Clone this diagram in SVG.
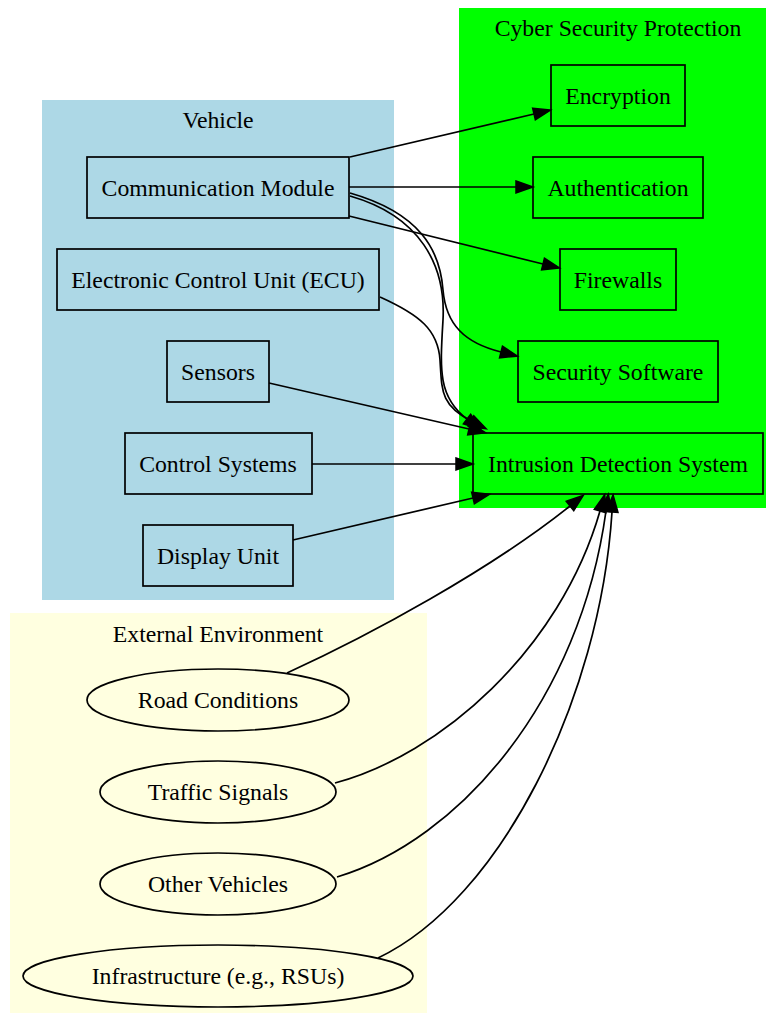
<svg xmlns="http://www.w3.org/2000/svg" width="766" height="1015" viewBox="0 0 766 1015">
<style>
text{font-family:"Liberation Serif","Times New Roman",serif;font-size:23.75px;fill:#000;text-anchor:middle}
.n{fill:none;stroke:#000;stroke-width:1.7}
.e{fill:none;stroke:#000;stroke-width:1.7;marker-end:url(#arr)}
</style>
<defs>
<marker id="arr" markerUnits="userSpaceOnUse" markerWidth="18" markerHeight="13" refX="0" refY="6" orient="auto" viewBox="0 0 18 12" overflow="visible">
<path d="M0,0 L17,6 L0,12 z" fill="#000" stroke="#000" stroke-width="1.5"/>
</marker>
</defs>
<rect width="766" height="1015" fill="#fff"/>
<g id="cluster_security">
<rect x="459" y="8" width="307" height="500" fill="#00ff00"/>
<text x="618" y="36">Cyber Security Protection</text>
</g>
<g id="cluster_vehicle">
<rect x="42" y="100" width="352" height="500" fill="#add8e6"/>
<text x="218" y="128">Vehicle</text>
</g>
<g id="cluster_external">
<rect x="10" y="613" width="417" height="400" fill="#ffffe0"/>
<text x="218" y="642">External Environment</text>
</g>
<g id="edges">
<path class="e" d="M350,157 L534,114"/>
<path class="e" d="M349,187 L516,187"/>
<path class="e" d="M349,216 L543,264"/>
<path class="e" d="M350,193 C420,213 440,250 443,290 C446,325 465,343 501,352"/>
<path class="e" d="M350,196 C420,216 446,265 443,320 C440,370 438,397 467,419"/>
<path class="e" d="M380,297 C420,315 438,330 440,360 C442,390 440,405 471,421"/>
<path class="e" d="M269,383 L469,429"/>
<path class="e" d="M312,464 L456,464"/>
<path class="e" d="M293,540 L473,498"/>
<path class="e" d="M287,673 C370,635 490,570 570,506"/>
<path class="e" d="M335,783 C440,755 560,650 600,511"/>
<path class="e" d="M337,877 C460,840 580,700 606,511"/>
<path class="e" d="M378,958 C500,900 600,700 612,512"/>
</g>
<g id="comm"><rect class="n" x="87" y="157" width="262" height="61"/><text x="218" y="196">Communication Module</text></g>
<g id="ecu"><rect class="n" x="57" y="249" width="322" height="61"/><text x="218" y="288">Electronic Control Unit (ECU)</text></g>
<g id="sensors"><rect class="n" x="167" y="341" width="102" height="61"/><text x="218" y="380">Sensors</text></g>
<g id="control"><rect class="n" x="125" y="433" width="187" height="61"/><text x="218" y="472">Control Systems</text></g>
<g id="display"><rect class="n" x="143" y="525" width="150" height="61"/><text x="218" y="564">Display Unit</text></g>
<g id="encryption"><rect class="n" x="551" y="65" width="134" height="61"/><text x="618" y="104">Encryption</text></g>
<g id="authentication"><rect class="n" x="533" y="157" width="170" height="61"/><text x="618" y="196">Authentication</text></g>
<g id="firewalls"><rect class="n" x="560" y="249" width="116" height="61"/><text x="618" y="288">Firewalls</text></g>
<g id="secsoft"><rect class="n" x="518" y="341" width="200" height="61"/><text x="618" y="380">Security Software</text></g>
<g id="ids"><rect class="n" x="473" y="433" width="290" height="61"/><text x="618" y="472">Intrusion Detection System</text></g>
<g id="road"><ellipse class="n" cx="218" cy="700" rx="131" ry="31"/><text x="218" y="708">Road Conditions</text></g>
<g id="traffic"><ellipse class="n" cx="218" cy="792" rx="118" ry="31"/><text x="218" y="800">Traffic Signals</text></g>
<g id="othervehicles"><ellipse class="n" cx="218" cy="884" rx="118" ry="31"/><text x="218" y="892">Other Vehicles</text></g>
<g id="infra"><ellipse class="n" cx="218" cy="976" rx="195" ry="31"/><text x="218" y="984">Infrastructure (e.g., RSUs)</text></g>
</svg>
